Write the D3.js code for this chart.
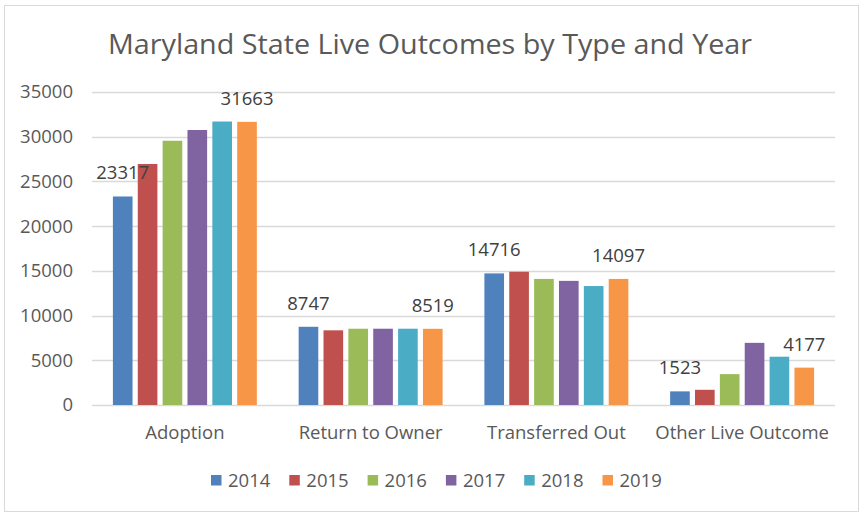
<!DOCTYPE html>
<html>
<head>
<meta charset="utf-8">
<script src="https://cdn.jsdelivr.net/npm/d3@7"></script>
<style>
  html, body { margin: 0; padding: 0; background: #fff; }
  svg { display: block; font-family: "Open Sans", sans-serif; }
</style>
</head>
<body>
<svg id="chart" width="860" height="514"></svg>
<script>
var categories = ["Adoption", "Return to Owner", "Transferred Out", "Other Live Outcome"];
var years = ["2014", "2015", "2016", "2017", "2018", "2019"];
var colors = ["#4F81BD", "#C0504D", "#9BBB59", "#8064A2", "#4BACC6", "#F79646"];

// one array per year, in category order
var v2014 = [23317, 8747, 14716, 1523];
var v2015 = [26950, 8350, 14900, 1700];
var v2016 = [29550, 8530, 14100, 3450];
var v2017 = [30750, 8530, 13880, 6950];
var v2018 = [31700, 8530, 13300, 5400];
var v2019 = [31663, 8519, 14097, 4177];
var series = [v2014, v2015, v2016, v2017, v2018, v2019];

var yTicks = [0, 5000, 10000, 15000, 20000, 25000, 30000, 35000];
var labelledYears = ["2014", "2019"];

var title = "Maryland State Live Outcomes by Type and Year";

var margin = {top: 92, right: 25, bottom: 109, left: 92};
var width = 860, height = 514;
var fontSize = "18.5px";

var svg = d3.select("#chart");

// chart border
svg.append("rect")
  .attr("x", 4.5).attr("y", 5.5)
  .attr("width", 854).attr("height", 506)
  .attr("fill", "#fff")
  .attr("stroke", "#d9d9d9");

var x = d3.scaleBand()
  .domain(categories)
  .range([margin.left, width - margin.right])
  .paddingInner(0.225)
  .paddingOuter(0.1125);

var xYear = d3.scaleBand()
  .domain(years)
  .range([0, x.bandwidth()])
  .paddingInner(0.21);

var y = d3.scaleLinear()
  .domain([0, 35000])
  .range([height - margin.bottom, margin.top]);

// gridlines
svg.append("g")
  .selectAll("line")
  .data(yTicks)
  .join("line")
  .attr("x1", margin.left).attr("x2", width - margin.right)
  .attr("y1", d => Math.round(y(d)) + 0.5)
  .attr("y2", d => Math.round(y(d)) + 0.5)
  .attr("stroke", "#d9d9d9")
  .attr("stroke-width", 1.5);

// y tick labels
var yAxis = d3.axisLeft(y).tickValues(yTicks).tickSize(0).tickPadding(0).tickFormat(d3.format("d"));
var ya = svg.append("g")
  .attr("transform", "translate(73,0)")
  .call(yAxis);
ya.select(".domain").remove();
ya.selectAll("text")
  .attr("fill", "#595959")
  .style("font-size", fontSize)
  .style("font-family", "Open Sans, sans-serif");

var rows = years.map((yr, i) => categories.map((c, j) => ({cat: c, year: yr, value: series[i][j], color: colors[i]})));

// bars
svg.append("g")
  .selectAll("g")
  .data(rows)
  .join("g")
  .attr("fill", d => d[0].color)
  .selectAll("rect")
  .data(d => d)
  .join("rect")
  .attr("x", d => x(d.cat) + xYear(d.year))
  .attr("width", xYear.bandwidth())
  .attr("y", d => y(d.value))
  .attr("height", d => y(0) - y(d.value));

// data labels for first and last year, drawn above all bars
var labelled = rows.filter(r => labelledYears.indexOf(r[0].year) >= 0).flat();
svg.append("g")
  .selectAll("text")
  .data(labelled)
  .join("text")
  .attr("x", d => x(d.cat) + xYear(d.year) + xYear.bandwidth() / 2)
  .attr("y", d => y(d.value) - 17)
  .attr("text-anchor", "middle")
  .attr("fill", "#404040")
  .style("font-size", fontSize)
  .text(d => d.value);

// category labels
var xAxis = d3.axisBottom(x).tickSize(0).tickPadding(0);
var xa = svg.append("g")
  .attr("transform", "translate(0,426)")
  .call(xAxis);
xa.select(".domain").remove();
xa.selectAll("text")
  .attr("fill", "#595959")
  .attr("dy", "0.71em")
  .style("font-size", fontSize)
  .style("font-family", "Open Sans, sans-serif");

// title
svg.append("text")
  .attr("x", 430)
  .attr("y", 54)
  .attr("text-anchor", "middle")
  .attr("fill", "#595959")
  .attr("textLength", 644)
  .attr("lengthAdjust", "spacingAndGlyphs")
  .style("font-size", "28px")
  .text(title);

// legend
var legend = svg.append("g")
  .selectAll("g")
  .data(years)
  .join("g")
  .attr("transform", (d, i) => "translate(" + (211 + i * 78.3) + ",475)");
legend.append("rect")
  .attr("width", 10.5).attr("height", 10.5)
  .attr("fill", (d, i) => colors[i]);
legend.append("text")
  .attr("x", 17)
  .attr("y", 12)
  .attr("fill", "#595959")
  .style("font-size", fontSize)
  .text(d => d);
</script>
</body>
</html>
